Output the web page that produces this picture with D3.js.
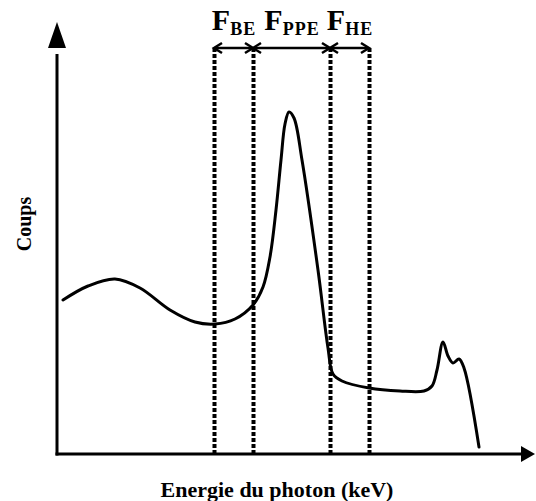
<!DOCTYPE html>
<html><head><meta charset="utf-8">
<script src="https://cdn.jsdelivr.net/npm/d3@7"></script>
<style>
html,body{margin:0;padding:0;background:#fff;}
svg{display:block;}
text{font-family:"Liberation Serif","Times New Roman",serif;font-weight:bold;fill:#000;}
</style></head>
<body>
<svg id="chart" width="536" height="501"></svg>
<script>
// Spectrum (energy in arbitrary units, counts in arbitrary units)
const energy = [6, 31, 58, 83, 113, 138, 158, 178, 196, 206, 213, 219, 224, 228, 232, 237, 245, 261, 271, 276, 285, 312, 343, 367, 375, 380, 386, 391, 396, 402, 407, 422];
const counts = [154, 168, 175, 166, 144, 132, 130, 135, 149, 167, 197, 244, 294, 330, 342, 336, 294, 184, 106, 80, 73, 66, 63, 63, 68, 84, 112, 98, 91, 95, 86, 7];
// Window boundaries (dashed lines)
const windowEdges = [157, 196, 273, 312];
const windowLabels = [
  {main: "F", sub: "BE"},
  {main: "F", sub: "PPE"},
  {main: "F", sub: "HE"}
];
const xTitle = "Energie du photon (keV)";
const yTitle = "Coups";

const svg = d3.select("#chart");
const x = d3.scaleLinear().domain([0, 478]).range([57, 535]);
const y = d3.scaleLinear().domain([0, 432]).range([454, 22]);

// Axes
const x0 = x(0), y0 = y(0);
svg.append("line").attr("x1", x0).attr("y1", y0 + 1.5).attr("x2", x0).attr("y2", y(400))
  .attr("stroke", "#000").attr("stroke-width", 3);
svg.append("path").attr("d", `M${x0},${y(432)} L${x0 - 9},${y(406)} L${x0 + 9},${y(406)} Z`).attr("fill", "#000");
svg.append("line").attr("x1", x0 - 1.5).attr("y1", y0).attr("x2", x(465)).attr("y2", y0)
  .attr("stroke", "#000").attr("stroke-width", 3);
svg.append("path").attr("d", `M${x(478)},${y0} L${x(464)},${y0 - 8} L${x(464)},${y0 + 8} Z`).attr("fill", "#000");

// Dashed window lines
const topY = y(406);
svg.selectAll("line.win").data(windowEdges).enter().append("line")
  .attr("class", "win")
  .attr("x1", d => x(d) + 0.5).attr("x2", d => x(d) + 0.5)
  .attr("y1", topY).attr("y2", y0)
  .attr("stroke", "#000").attr("stroke-width", 4)
  .attr("stroke-dasharray", "4,2");

// Double arrows between edges
const spans = d3.pairs(windowEdges);
svg.selectAll("line.span").data(spans).enter().append("line")
  .attr("class", "span")
  .attr("x1", d => x(d[0]) + 2).attr("x2", d => x(d[1]) - 2)
  .attr("y1", topY).attr("y2", topY)
  .attr("stroke", "#000").attr("stroke-width", 2.5);
const heads = [];
spans.forEach(d => { heads.push({px: x(d[0]), dir: -1}); heads.push({px: x(d[1]), dir: 1}); });
svg.selectAll("path.head").data(heads).enter().append("path")
  .attr("class", "head")
  .attr("d", d => `M${d.px - d.dir * 8},${topY - 5} L${d.px},${topY} L${d.px - d.dir * 8},${topY + 5}`)
  .attr("fill", "none").attr("stroke", "#000").attr("stroke-width", 2.5)
  .attr("stroke-linejoin", "miter");

// Labels above spans
const lab = svg.selectAll("text.lab").data(spans.map((d, i) => ({span: d, lab: windowLabels[i]})))
  .enter().append("text").attr("class", "lab")
  .attr("x", d => (x(d.span[0]) + x(d.span[1])) / 2 + 0.5)
  .attr("y", 30)
  .attr("text-anchor", "middle");
lab.append("tspan").attr("font-size", 30).text(d => d.lab.main);
lab.append("tspan").attr("font-size", 18).attr("letter-spacing", 1).attr("dy", 5).text(d => d.lab.sub);

// Curve
const pts = energy.map((e, i) => [e, counts[i]]);
const line = d3.line().x(d => x(d[0])).y(d => y(d[1])).curve(d3.curveCatmullRom.alpha(0.5));
svg.append("path").datum(pts).attr("d", line)
  .attr("fill", "none").attr("stroke", "#000").attr("stroke-width", 3)
  .attr("stroke-linejoin", "round").attr("stroke-linecap", "round");

// Axis titles
svg.append("text").attr("x", 277).attr("y", 497).attr("text-anchor", "middle")
  .attr("font-size", 22).text(xTitle);
svg.append("text").attr("transform", "translate(31,224) rotate(-90)")
  .attr("text-anchor", "middle").attr("font-size", 20).text(yTitle);
</script>
</body></html>
